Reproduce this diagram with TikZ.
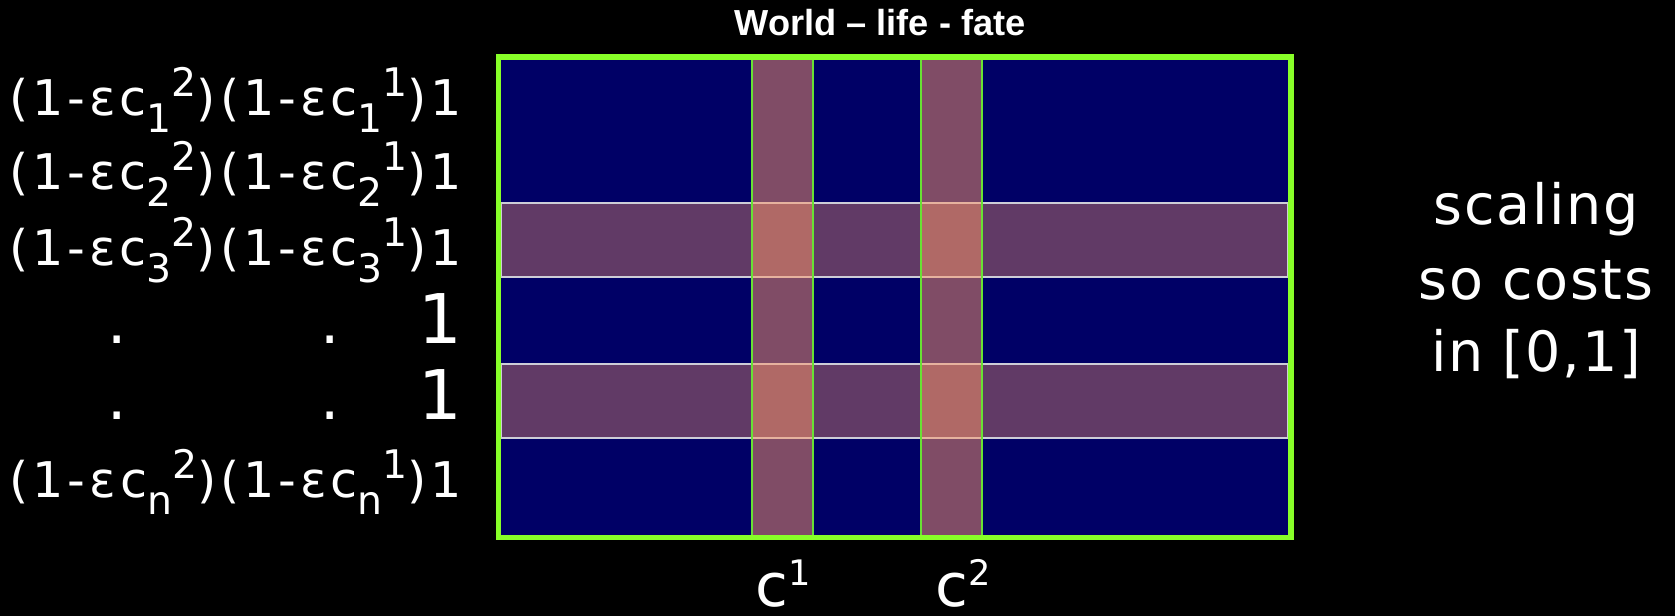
\documentclass[tikz,border=0pt]{standalone}
\usepackage{fontspec}
\newfontfamily\comic{DejaVu Sans}[LetterSpace=8]
\newfontfamily\comicnote{DejaVu Sans}[LetterSpace=3]
\newfontfamily\comicplain{DejaVu Sans}
\newfontfamily\headfont{Liberation Sans}
\definecolor{boardBlue}{RGB}{0,0,102}
\definecolor{frameLime}{RGB}{136,255,40}
\definecolor{edgeGreen}{RGB}{104,226,52}
\definecolor{costSalmon}{RGB}{255,153,102}
\definecolor{bandEdge}{RGB}{205,205,215}
\newcommand\lo[1]{\raisebox{-0.33em}{\fontsize{11.2}{11.2}\selectfont #1}}
\newcommand\hi[1]{\raisebox{0.4em}{\fontsize{11.2}{11.2}\selectfont #1}}
\newcommand\colsup[1]{\raisebox{0.36em}{\fontsize{10}{10}\selectfont #1}}
\tikzset{slide/.style={
  text=white, inner sep=0pt,
  rowlab/.style={font=\comic\fontsize{14}{16}\selectfont, anchor=base east},
  bigone/.style={font=\comic\fontsize{19.5}{22}\selectfont, anchor=base east},
  dotlab/.style={font=\comic\fontsize{17.3}{20}\selectfont, anchor=base},
  side/.style={font=\comicnote\fontsize{15.8}{18}\selectfont, anchor=base},
}}

\begin{document}
\begin{tikzpicture}[slide,
  board/.style={fill=boardBlue},
  band/.style={fill=costSalmon, fill opacity=0.38, draw=bandEdge, line width=0.6pt},
  stripe/.style={fill=costSalmon, fill opacity=0.5, draw=edgeGreen, line width=0.5pt},
  frame/.style={draw=frameLime, line width=1.45pt},
  collab/.style={font=\comicplain\fontsize{17}{19}\selectfont, anchor=base},
]
\fill[black] (0,0) rectangle (16.75,6.16);
\useasboundingbox (0,0) rectangle (16.75,6.16);

\node[font=\headfont\bfseries\fontsize{10.3}{12}\selectfont, anchor=base] (title) at (8.80,5.80) {World – life - fate};

% ---- board ----
\fill[board] (4.985,0.785) rectangle (12.91,5.59);

% ---- rows hit by a cost ----
\draw[band] (5.01,3.39) rectangle (12.88,4.13);
\draw[band] (5.01,1.78) rectangle (12.88,2.52);

% ---- cost columns ----
\draw[stripe] (7.52,0.79) rectangle (8.13,5.58);
\draw[stripe] (9.21,0.79) rectangle (9.82,5.58);

% ---- outer frame ----
\draw[frame] (4.985,0.785) rectangle (12.91,5.59);

% ---- column labels ----
\node[collab] (cA) at (7.83,0.09) {c\colsup{1}};
\node[collab] (cB) at (9.63,0.09) {c\colsup{2}};

% ---- row weights ----
\node[rowlab] (row1) at (4.63,5.00) {(1-εc\lo{1}\hi{2})(1-εc\lo{1}\hi{1})1};
\node[rowlab] (row2) at (4.63,4.26) {(1-εc\lo{2}\hi{2})(1-εc\lo{2}\hi{1})1};
\node[rowlab] (row3) at (4.63,3.50) {(1-εc\lo{3}\hi{2})(1-εc\lo{3}\hi{1})1};
\node[bigone] (row4) at (4.63,2.72) {1};
\node[dotlab] (dot4a) at (1.17,2.72) {.};
\node[dotlab] (dot4b) at (3.30,2.72) {.};
\node[bigone] (row5) at (4.63,1.96) {1};
\node[dotlab] (dot5a) at (1.17,1.96) {.};
\node[dotlab] (dot5b) at (3.30,1.96) {.};
\node[rowlab] (row6) at (4.63,1.18) {(1-εc\lo{n}\hi{2})(1-εc\lo{n}\hi{1})1};

% ---- side note ----
\node[side] (note1) at (15.36,3.91) {scaling};
\node[side] (note2) at (15.36,3.16) {so costs};
\node[side] (note3) at (15.36,2.44) {in [0,1]};

\end{tikzpicture}
\end{document}
